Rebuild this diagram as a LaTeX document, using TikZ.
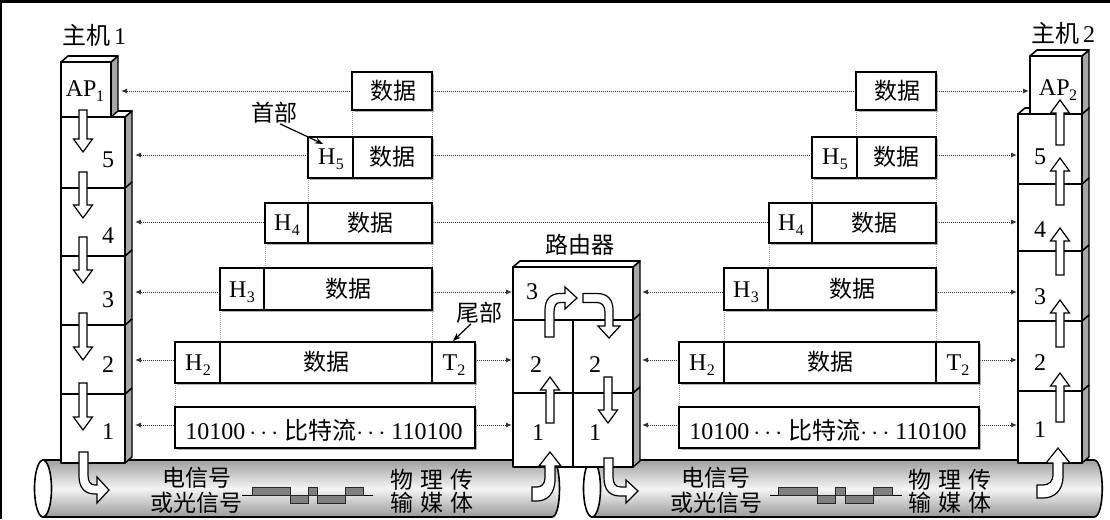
\documentclass[tikz,border=0pt]{standalone}
\usepackage{fontspec}
\setmainfont{Liberation Serif}
\newfontfamily\cjk{Noto Sans CJK SC}
\usetikzlibrary{arrows.meta,shadows}
\newcommand{\Hsb}[2]{#1\kern0.3pt\raisebox{-5.5pt}{\fontsize{16}{16}\selectfont #2}}
\newcommand{\dnarr}[3]{\draw[blk] ({#1-4},#2) -- ({#1+4},#2) -- ({#1+4},{#3-13}) -- ({#1+9.5},{#3-13}) -- (#1,#3) -- ({#1-9.5},{#3-13}) -- ({#1-4},{#3-13}) -- cycle;}
\newcommand{\uparr}[3]{\draw[blk] ({#1-4},#2) -- ({#1+4},#2) -- ({#1+4},{#3+13}) -- ({#1+9.5},{#3+13}) -- (#1,#3) -- ({#1-9.5},{#3+13}) -- ({#1-4},{#3+13}) -- cycle;}
\begin{document}
\begin{tikzpicture}[x=1pt,y=-1pt,
  face/.style={draw=black, line width=1.6pt, fill=white, line join=round},
  side/.style={draw=black, line width=1.4pt, fill=gray!70, line join=round},
  bound/.style={draw=black, line width=1.6pt},
  pkt/.style={draw=black, line width=1.8pt, fill=white, drop shadow={shadow xshift=1.8pt, shadow yshift=-1.8pt, fill=gray, opacity=0.6}},
  blk/.style={draw=black, line width=1.2pt, fill=white, line join=miter},
  peer/.style={line width=1pt, draw=gray!40!black, dash pattern=on 0.8pt off 1.2pt, {Latex[length=6pt,width=5pt]}-{Latex[length=6pt,width=5pt]}},
  guide/.style={line width=0.8pt, draw=gray!70, dash pattern=on 0.8pt off 1.2pt},
  lbl/.style={inner sep=0pt, font=\fontsize{24}{26}\selectfont},
  zh/.style={inner sep=0pt, font=\fontsize{23}{25}\selectfont\cjk},
  cable/.style={draw=black, line width=1.6pt, top color=gray!75, bottom color=gray!80, middle color=gray!8},
  wave/.style={draw=black!85, line width=1pt, fill=black!50},
]
\useasboundingbox (0,0) rectangle (1110,519);
\fill[white] (0,0) rectangle (1110,519);
\fill[black] (0,0) rectangle (1110,3);
\fill[black] (0,0) rectangle (1.5,519);

% ---------- cables ----------
\draw[cable] (43,460) -- (552,460) .. controls (562,460) and (562,517) .. (552,517) -- (43,517) -- cycle;
\draw[line width=1.6pt, fill=white] (43,488.5) ellipse [x radius=8.5, y radius=28.5];
\draw[cable] (592,460) -- (1094,460) .. controls (1105,460) and (1105,517) .. (1094,517) -- (592,517) -- cycle;
\draw[line width=1.6pt, fill=white] (592,488.5) ellipse [x radius=8.5, y radius=28.5];

% signals
\draw[line width=1pt] (242,495) -- (373,495);
\filldraw[wave] (252,487) rectangle (290,495);
\filldraw[wave] (290,495) rectangle (308,503);
\filldraw[wave] (308,487) rectangle (317,495);
\filldraw[wave] (317,495) rectangle (345,503);
\filldraw[wave] (345,487) rectangle (363,495);
\draw[line width=1pt] (770,495) -- (902,495);
\filldraw[wave] (778,487) rectangle (817,495);
\filldraw[wave] (817,495) rectangle (835,503);
\filldraw[wave] (835,487) rectangle (845,495);
\filldraw[wave] (845,495) rectangle (873,503);
\filldraw[wave] (873,487) rectangle (892,495);

\node[zh] (sigL1) at (197,478) {电信号};
\node[zh] (sigL2) at (196,503) {或光信号};
\node[zh] (medL1) at (432,480) {物\hspace{7pt}理\hspace{7pt}传};
\node[zh] (medL2) at (432,503) {输\hspace{7pt}媒\hspace{7pt}体};
\node[zh] (sigR1) at (716,478) {电信号};
\node[zh] (sigR2) at (716,503) {或光信号};
\node[zh] (medR1) at (950,480) {物\hspace{7pt}理\hspace{7pt}传};
\node[zh] (medR2) at (950,503) {输\hspace{7pt}媒\hspace{7pt}体};

% ---------- connector end points ----------
\coordinate (h1ap) at (121,91);
\coordinate (h1l5) at (135,155);
\coordinate (h1l4) at (135,222);
\coordinate (h1l3) at (135,292);
\coordinate (h1l2) at (135,360);
\coordinate (h1l1) at (135,425);
\coordinate (h2ap) at (1029,91);
\coordinate (h2l5) at (1017,155);
\coordinate (h2l4) at (1017,222);
\coordinate (h2l3) at (1017,292);
\coordinate (h2l2) at (1017,360);
\coordinate (h2l1) at (1017,425);
\coordinate (rL3) at (512,292);
\coordinate (rL2) at (512,360);
\coordinate (rL1) at (512,425);
\coordinate (rR3) at (642,292);
\coordinate (rR2) at (642,360);
\coordinate (rR1) at (642,425);

\draw[peer] (h1ap) -- (h2ap);
\draw[peer] (h1l5) -- (h2l5);
\draw[peer] (h1l4) -- (h2l4);
\draw[peer] (h1l3) -- (rL3);
\draw[peer] (h1l2) -- (rL2);
\draw[peer] (h1l1) -- (rL1);
\draw[peer] (rR3) -- (h2l3);
\draw[peer] (rR2) -- (h2l2);
\draw[peer] (rR1) -- (h2l1);

% guide lines
\foreach \s in {0,504}{
  \draw[guide] (352+\s,110) -- (352+\s,137);
  \draw[guide] (432+\s,110) -- (432+\s,342);
  \draw[guide] (308+\s,178) -- (308+\s,203);
  \draw[guide] (265+\s,243) -- (265+\s,268);
  \draw[guide] (220+\s,310) -- (220+\s,342);
  \draw[guide] (175+\s,383) -- (175+\s,407);
  \draw[guide] (475+\s,383) -- (475+\s,407);
}

% ---------- packets ----------
\foreach \s/\n in {0/L,504/R}{
  \draw[pkt] (352+\s,72) rectangle (432+\s,110);
  \draw[pkt] (308+\s,137) rectangle (432+\s,178);
  \draw[line width=1.5pt] (353+\s,137) -- (353+\s,178);
  \draw[pkt] (265+\s,203) rectangle (432+\s,243);
  \draw[line width=1.5pt] (308+\s,203) -- (308+\s,243);
  \draw[pkt] (220+\s,268) rectangle (432+\s,310);
  \draw[line width=1.5pt] (264+\s,268) -- (264+\s,310);
  \draw[pkt] (175+\s,342) rectangle (475+\s,383);
  \draw[line width=1.5pt] (220+\s,342) -- (220+\s,383);
  \draw[line width=1.5pt] (432+\s,342) -- (432+\s,383);
  \draw[pkt] (175+\s,407) rectangle (475+\s,448);
  \node[zh] (d6\n) at (393+\s,91) {数据};
  \node[zh] (d5\n) at (392+\s,157) {数据};
  \node[lbl] (hh5\n) at (331+\s,159) {\Hsb{H}{5}};
  \node[zh] (d4\n) at (370+\s,223) {数据};
  \node[lbl] (hh4\n) at (287+\s,225) {\Hsb{H}{4}};
  \node[zh] (d3\n) at (348+\s,289) {数据};
  \node[lbl] (hh3\n) at (242+\s,292) {\Hsb{H}{3}};
  \node[zh] (d2\n) at (326+\s,362) {数据};
  \node[lbl] (hh2\n) at (198+\s,365) {\Hsb{H}{2}};
  \node[lbl] (tt2\n) at (454+\s,365) {\Hsb{T}{2}};
  \node[lbl] (bits\n) at (324+\s,430) {10100\,$\cdots$\ {\cjk 比特流}$\cdots$\ 110100};
}

% labels head / tail
\node[zh] (shoubu) at (274,113) {首部};
\coordinate (h5tip) at (323,144);
\draw[line width=1.2pt, -{Stealth[length=8pt,width=6pt]}] ([xshift=6pt]shoubu.south) -- (h5tip);
\node[zh] (weibu) at (479,313) {尾部};
\coordinate (t2tip) at (453,341);
\draw[line width=1.2pt, -{Stealth[length=8pt,width=6pt]}] ([xshift=-8pt]weibu.south) -- (t2tip);

% ---------- host 1 ----------
\draw[side] (125,117) -- (132,111) -- (132,457) -- (125,463) -- cycle;
\draw[face] (61,117) -- (68,111) -- (132,111) -- (125,117) -- cycle;
\draw[face] (61,117) rectangle (125,463);
\foreach \yy in {188,256,325,394}{ \draw[bound] (61,\yy) -- (125,\yy) -- (132,\yy-6); }
\draw[side] (111,62) -- (118,56) -- (118,111) -- (111,117) -- cycle;
\draw[face] (61,62) -- (68,56) -- (118,56) -- (111,62) -- cycle;
\draw[face] (61,62) rectangle (111,117);
\node[lbl] (ap1) at (85,91) {AP\kern-0.5pt\raisebox{-5.5pt}{\fontsize{16}{16}\selectfont 1}};
\node[lbl] (h1n5) at (108,160) {5};
\node[lbl] (h1n4) at (108,236) {4};
\node[lbl] (h1n3) at (108,300) {3};
\node[lbl] (h1n2) at (108,365) {2};
\node[lbl] (h1n1) at (108,432) {1};
\node[lbl] (host1) at (94,35) {{\cjk 主机}\,1};
\dnarr{83}{110}{152}
\dnarr{83}{172}{218}
\dnarr{83}{237}{283}
\dnarr{83}{313}{360}
\dnarr{83}{383}{430}
\draw[blk] (79,452) -- (79,476) .. controls (79,488) and (85,494) .. (95,494) -- (97,494) -- (97,503) -- (109,490) -- (97,477) -- (97,485) -- (95,485) .. controls (90,485) and (88,481) .. (88,475) -- (88,452) -- cycle;

% ---------- host 2 ----------
\draw[side] (1082,114) -- (1089,108) -- (1089,457) -- (1082,463) -- cycle;
\draw[face] (1018,114) -- (1025,108) -- (1089,108) -- (1082,114) -- cycle;
\draw[face] (1018,114) rectangle (1082,463);
\foreach \yy in {184,251,321,391}{ \draw[bound] (1018,\yy) -- (1082,\yy) -- (1089,\yy-6); }
\draw[side] (1082,56) -- (1089,50) -- (1089,108) -- (1082,114) -- cycle;
\draw[face] (1030,56) -- (1037,50) -- (1089,50) -- (1082,56) -- cycle;
\draw[face] (1030,56) rectangle (1082,114);
\node[lbl] (ap2) at (1058,90) {AP\kern-0.5pt\raisebox{-5.5pt}{\fontsize{16}{16}\selectfont 2}};
\node[lbl] (h2n5) at (1040,157) {5};
\node[lbl] (h2n4) at (1040,230) {4};
\node[lbl] (h2n3) at (1040,297) {3};
\node[lbl] (h2n2) at (1040,363) {2};
\node[lbl] (h2n1) at (1040,430) {1};
\node[lbl] (host2) at (1063,33) {{\cjk 主机}\,2};
\uparr{1060}{145}{100}
\uparr{1060}{205}{158}
\uparr{1060}{275}{228}
\uparr{1060}{347}{300}
\uparr{1060}{422}{373}
\draw[blk] (1037,485) -- (1043,485) .. controls (1049,485) and (1053,481) .. (1053,475) -- (1053,463) -- (1046,463) -- (1058,448) -- (1070,463) -- (1063,463) -- (1063,476) .. controls (1063,491) and (1054,498) .. (1043,498) -- (1037,498) -- cycle;

% ---------- router ----------
\draw[side] (633,267) -- (640,261) -- (640,461) -- (633,467) -- cycle;
\draw[face] (513,267) -- (520,261) -- (640,261) -- (633,267) -- cycle;
\draw[face] (513,267) rectangle (633,467);
\draw[bound] (513,320) -- (633,320) -- (640,314);
\draw[bound] (513,393) -- (633,393) -- (640,387);
\draw[bound] (573,320) -- (573,467);
\node[zh] (router) at (580,245) {路由器};
\node[lbl] (rn3) at (532,292) {3};
\node[lbl] (rn2a) at (536,365) {2};
\node[lbl] (rn2b) at (595,365) {2};
\node[lbl] (rn1a) at (538,433) {1};
\node[lbl] (rn1b) at (595,433) {1};
\uparr{550}{423}{377}
\dnarr{608}{377}{423}
\draw[blk] (532,487) -- (537,487) .. controls (541,487) and (545,484) .. (545,478) -- (545,466) -- (539,466) -- (550,452) -- (561,466) -- (555,466) -- (555,479) .. controls (555,494) and (547,501) .. (537,501) -- (532,501) -- cycle;
\draw[blk] (545,337) -- (545,310) .. controls (545,299) and (551,293.5) .. (560,293.5) -- (565,293.5) -- (565,287) -- (577,298) -- (565,309) -- (565,302.5) -- (560,302.5) .. controls (556,302.5) and (554,306) .. (554,312) -- (554,337) -- cycle;
\draw[blk] (583,293.5) -- (597,293.5) .. controls (608,293.5) and (613,300) .. (613,310) -- (613,326) -- (620,326) -- (609,338) -- (598,326) -- (605,326) -- (605,312) .. controls (605,306) and (602,302.5) .. (597,302.5) -- (583,302.5) -- cycle;
\draw[blk] (604,458) -- (604,478) .. controls (604,490) and (610,496) .. (620,496) -- (626,496) -- (626,503) -- (638,491) -- (626,480) -- (626,487) -- (621,487) .. controls (615,487) and (613,483) .. (613,477) -- (613,458) -- cycle;
\end{tikzpicture}
\end{document}
